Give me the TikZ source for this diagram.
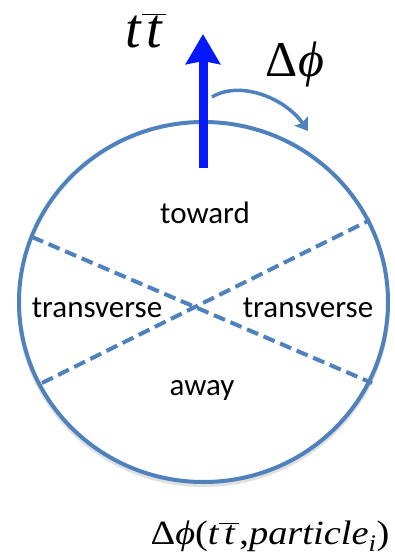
\documentclass[tikz,border=0pt]{standalone}
\usepackage{fontspec}
\usepackage{graphicx}
\setmainfont{Carlito}
\newfontfamily\tms{Liberation Serif}
\usetikzlibrary{arrows.meta}
\definecolor{ringblue}{RGB}{79,129,189}
\definecolor{vecblue}{RGB}{5,25,255}
\newcommand{\tbarx}{$\overline{\vphantom{T}\,\textit{t}\,}$}
\begin{document}
\begin{tikzpicture}[x=1pt,y=-1pt,
  region/.style={font=\fontsize{31}{36}\selectfont, text=black, inner sep=0pt},
  mathlbl/.style={inner sep=0pt, text=black},
  ring/.style={draw=ringblue, line width=4pt},
  divider/.style={draw=ringblue, line width=4pt, dash pattern=on 12pt off 6pt},
]
\path[use as bounding box] (0,0) rectangle (394,556);
% shadow
\draw[black, opacity=0.12, line width=4pt] (203.5,305) ellipse [x radius=184.5, y radius=180];
% circle
\draw[ring, fill=white] (203.5,302) ellipse [x radius=184.5, y radius=180];
% dividers
\coordinate (d1a) at (32,237);
\coordinate (d1b) at (372,383);
\coordinate (d2a) at (42,383);
\coordinate (d2b) at (370,220);
\draw[divider] (d1a) -- (d1b);
\draw[divider] (d2a) -- (d2b);
% region labels
\node[region] (toward) at (205,213) {toward};
\node[region] (transL) at (97,308) {transverse};
\node[region] (transR) at (308,308) {transverse};
\node[region] (away) at (202,390) {away};
% ttbar vector
\coordinate (vbase) at (203,168);
\coordinate (vtip) at (203,34);
\draw[vecblue, line width=9pt, -{Stealth[width=34pt,length=30pt,inset=3pt]}] (vbase) -- (vtip);
% delta phi arrow
\coordinate (pa) at (212,97);
\coordinate (pb) at (308,131);
\draw[ringblue, line width=3.5pt, -{Stealth[width=16pt,length=12pt,inset=2pt]}] (pa) .. controls (240,80) and (285,98) .. (pb);
% math labels
\node[mathlbl] (ttbar) at (146,31) {\fontsize{56}{60}\selectfont\tms \textit{t}\tbarx};
\node[mathlbl] (dphi) at (295,64) {\fontsize{50}{56}\selectfont\tms Δ\textit{ϕ}};
\node[mathlbl] (formula) at (270,536) {\scalebox{1.13}[1]{\fontsize{34}{40}\selectfont\tms Δ\textit{ϕ}(\textit{t}\tbarx,\textit{particle}\textsubscript{\textit{i}})}};
\end{tikzpicture}
\end{document}
